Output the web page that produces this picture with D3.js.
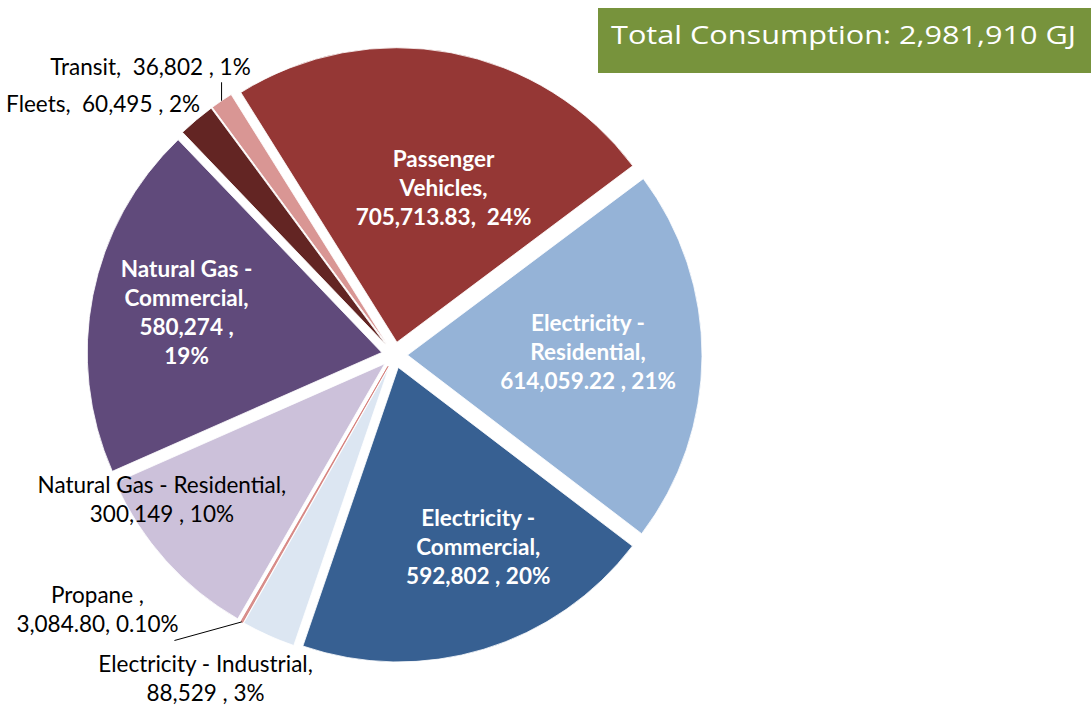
<!DOCTYPE html>
<html>
<head>
<meta charset="utf-8">
<script src="https://cdn.jsdelivr.net/npm/d3@7"></script>
<style>
  body { margin: 0; background: #fff; }
  svg { display: block; }
</style>
</head>
<body>
<div id="chart"></div>
<script>
// Slice data (clockwise, starting with Passenger Vehicles)
var categories = ["Passenger Vehicles", "Electricity - Residential", "Electricity - Commercial",
    "Electricity - Industrial", "Propane", "Natural Gas - Residential",
    "Natural Gas - Commercial", "Fleets", "Transit"];
var values = [705713.83, 614059.22, 592802, 88529, 3084.80, 300149, 580274, 60495, 36802];
var valueText = ["705,713.83", "614,059.22", "592,802", "88,529", "3,084.80", "300,149", "580,274", "60,495", "36,802"];
var percentText = ["24%", "21%", "20%", "3%", "0.10%", "10%", "19%", "2%", "1%"];

// label text, line by line, as it shows on the chart
var labelLines = [
    ["Passenger", "Vehicles,", "705,713.83,  24%"],
    ["Electricity -", "Residential,", "614,059.22 , 21%"],
    ["Electricity -", "Commercial,", "592,802 , 20%"],
    ["Electricity - Industrial,", "88,529 , 3%"],
    ["Propane ,", "3,084.80, 0.10%"],
    ["Natural Gas - Residential,", "300,149 , 10%"],
    ["Natural Gas -", "Commercial,", "580,274 ,", "19%"],
    ["Fleets,  60,495 , 2%"],
    ["Transit,  36,802 , 1%"]
];
var totalText = "Total Consumption: 2,981,910 GJ";

// colors
var colors = ["#953735", "#95B3D7", "#376092", "#DCE6F2", "#D99694", "#CCC1DA", "#604A7B", "#632523", "#D99694"];
var inside = [true, true, true, false, false, false, true, false, false];

// label placement: radius as fraction of R, then a nudge in px
var labelPos = [
    {f: 0.547, dx: 17, dy: 4},
    {f: 0.613, dx: 0, dy: -4},
    {f: 0.666, dx: 23, dy: -8},
    {f: 1.229, dx: -35, dy: -18},
    {f: 0.975, dx: -148, dy: -6},
    {f: 0.885, dx: -29, dy: -38},
    {f: 0.745, dx: 20, dy: 3},
    {f: 1.26, dx: -44, dy: 43},
    {f: 1.236, dx: -32, dy: 24}
];

var width = 1091, height = 707;
var cx = 394.5, cy = 355, R = 294.5, explode = 13;
var lineH = 29;

var svg = d3.select("#chart").append("svg")
    .attr("width", width)
    .attr("height", height);

var pie = d3.pie()
    .sort(null)
    .value(function (d) { return d; })
    .startAngle(-32 * Math.PI / 180)
    .endAngle(-32 * Math.PI / 180 + 2 * Math.PI);

var arcs = pie(values);

var arc = d3.arc().innerRadius(0).outerRadius(R);

function mid(d) { return (d.startAngle + d.endAngle) / 2; }
function polar(a, r) { return [Math.sin(a) * r, -Math.cos(a) * r]; }

var g = svg.append("g").attr("transform", "translate(" + cx + "," + cy + ")");

// slices, each pulled out along its bisector
g.selectAll("path.slice")
    .data(arcs)
    .enter()
    .append("path")
    .attr("class", "slice")
    .attr("transform", function (d) {
        var o = polar(mid(d), explode);
        return "translate(" + o[0] + "," + o[1] + ")";
    })
    .attr("d", arc)
    .attr("fill", function (d, i) { return colors[i]; })
    .attr("stroke", function (d, i) { return i === 4 ? "#D0706C" : "#fff"; })
    .attr("stroke-width", function (d, i) { return i === 4 ? 0.7 : 0.8; });

// label anchor points
var anchors = arcs.map(function (d, i) {
    var p = polar(mid(d), labelPos[i].f * R + explode);
    return [p[0] + labelPos[i].dx, p[1] + labelPos[i].dy];
});

// leader lines for Propane and Transit
var leaders = [
    {i: 4, to: function (a) { return [a[0] + 77, a[1] + 31]; }},
    {i: 8, to: function (a) { return [null, a[1] + 15]; }}
];
leaders.forEach(function (l) {
    var d = arcs[l.i];
    var s = polar(mid(d), R + explode);
    var e = l.to(anchors[l.i]);
    if (e[0] === null) e[0] = s[0];
    g.append("line")
        .attr("x1", s[0]).attr("y1", s[1])
        .attr("x2", e[0]).attr("y2", e[1])
        .attr("stroke", "#000")
        .attr("stroke-width", 1);
});

// data labels
var labels = g.selectAll("text.lbl")
    .data(arcs)
    .enter()
    .append("text")
    .attr("class", "lbl")
    .attr("text-anchor", "middle")
    .attr("font-family", "Lato, 'Open Sans', sans-serif")
    .attr("font-size", 22.5)
    .attr("font-weight", function (d, i) { return inside[i] ? "bold" : "normal"; })
    .attr("fill", function (d, i) { return inside[i] ? "#fff" : "#000"; })
    .attr("transform", function (d, i) {
        return "translate(" + anchors[i][0] + "," + anchors[i][1] + ")";
    });

labels.each(function (d, i) {
    var lines = labelLines[i];
    var t = d3.select(this);
    lines.forEach(function (s, k) {
        t.append("tspan")
            .attr("x", 0)
            .attr("y", (k - (lines.length - 1) / 2) * lineH)
            .attr("dy", "0.35em")
            .attr("xml:space", "preserve")
            .style("white-space", "pre")
            .text(s);
    });
});

// total box
svg.append("rect")
    .attr("x", 598)
    .attr("y", 8)
    .attr("width", width - 598)
    .attr("height", 65)
    .attr("fill", "#77933C");

svg.append("text")
    .attr("x", 611)
    .attr("y", 44)
    .attr("font-family", "'Open Sans', sans-serif")
    .attr("font-size", 26)
    .attr("fill", "#fff")
    .attr("textLength", 465)
    .attr("lengthAdjust", "spacingAndGlyphs")
    .text(totalText);
</script>
</body>
</html>
